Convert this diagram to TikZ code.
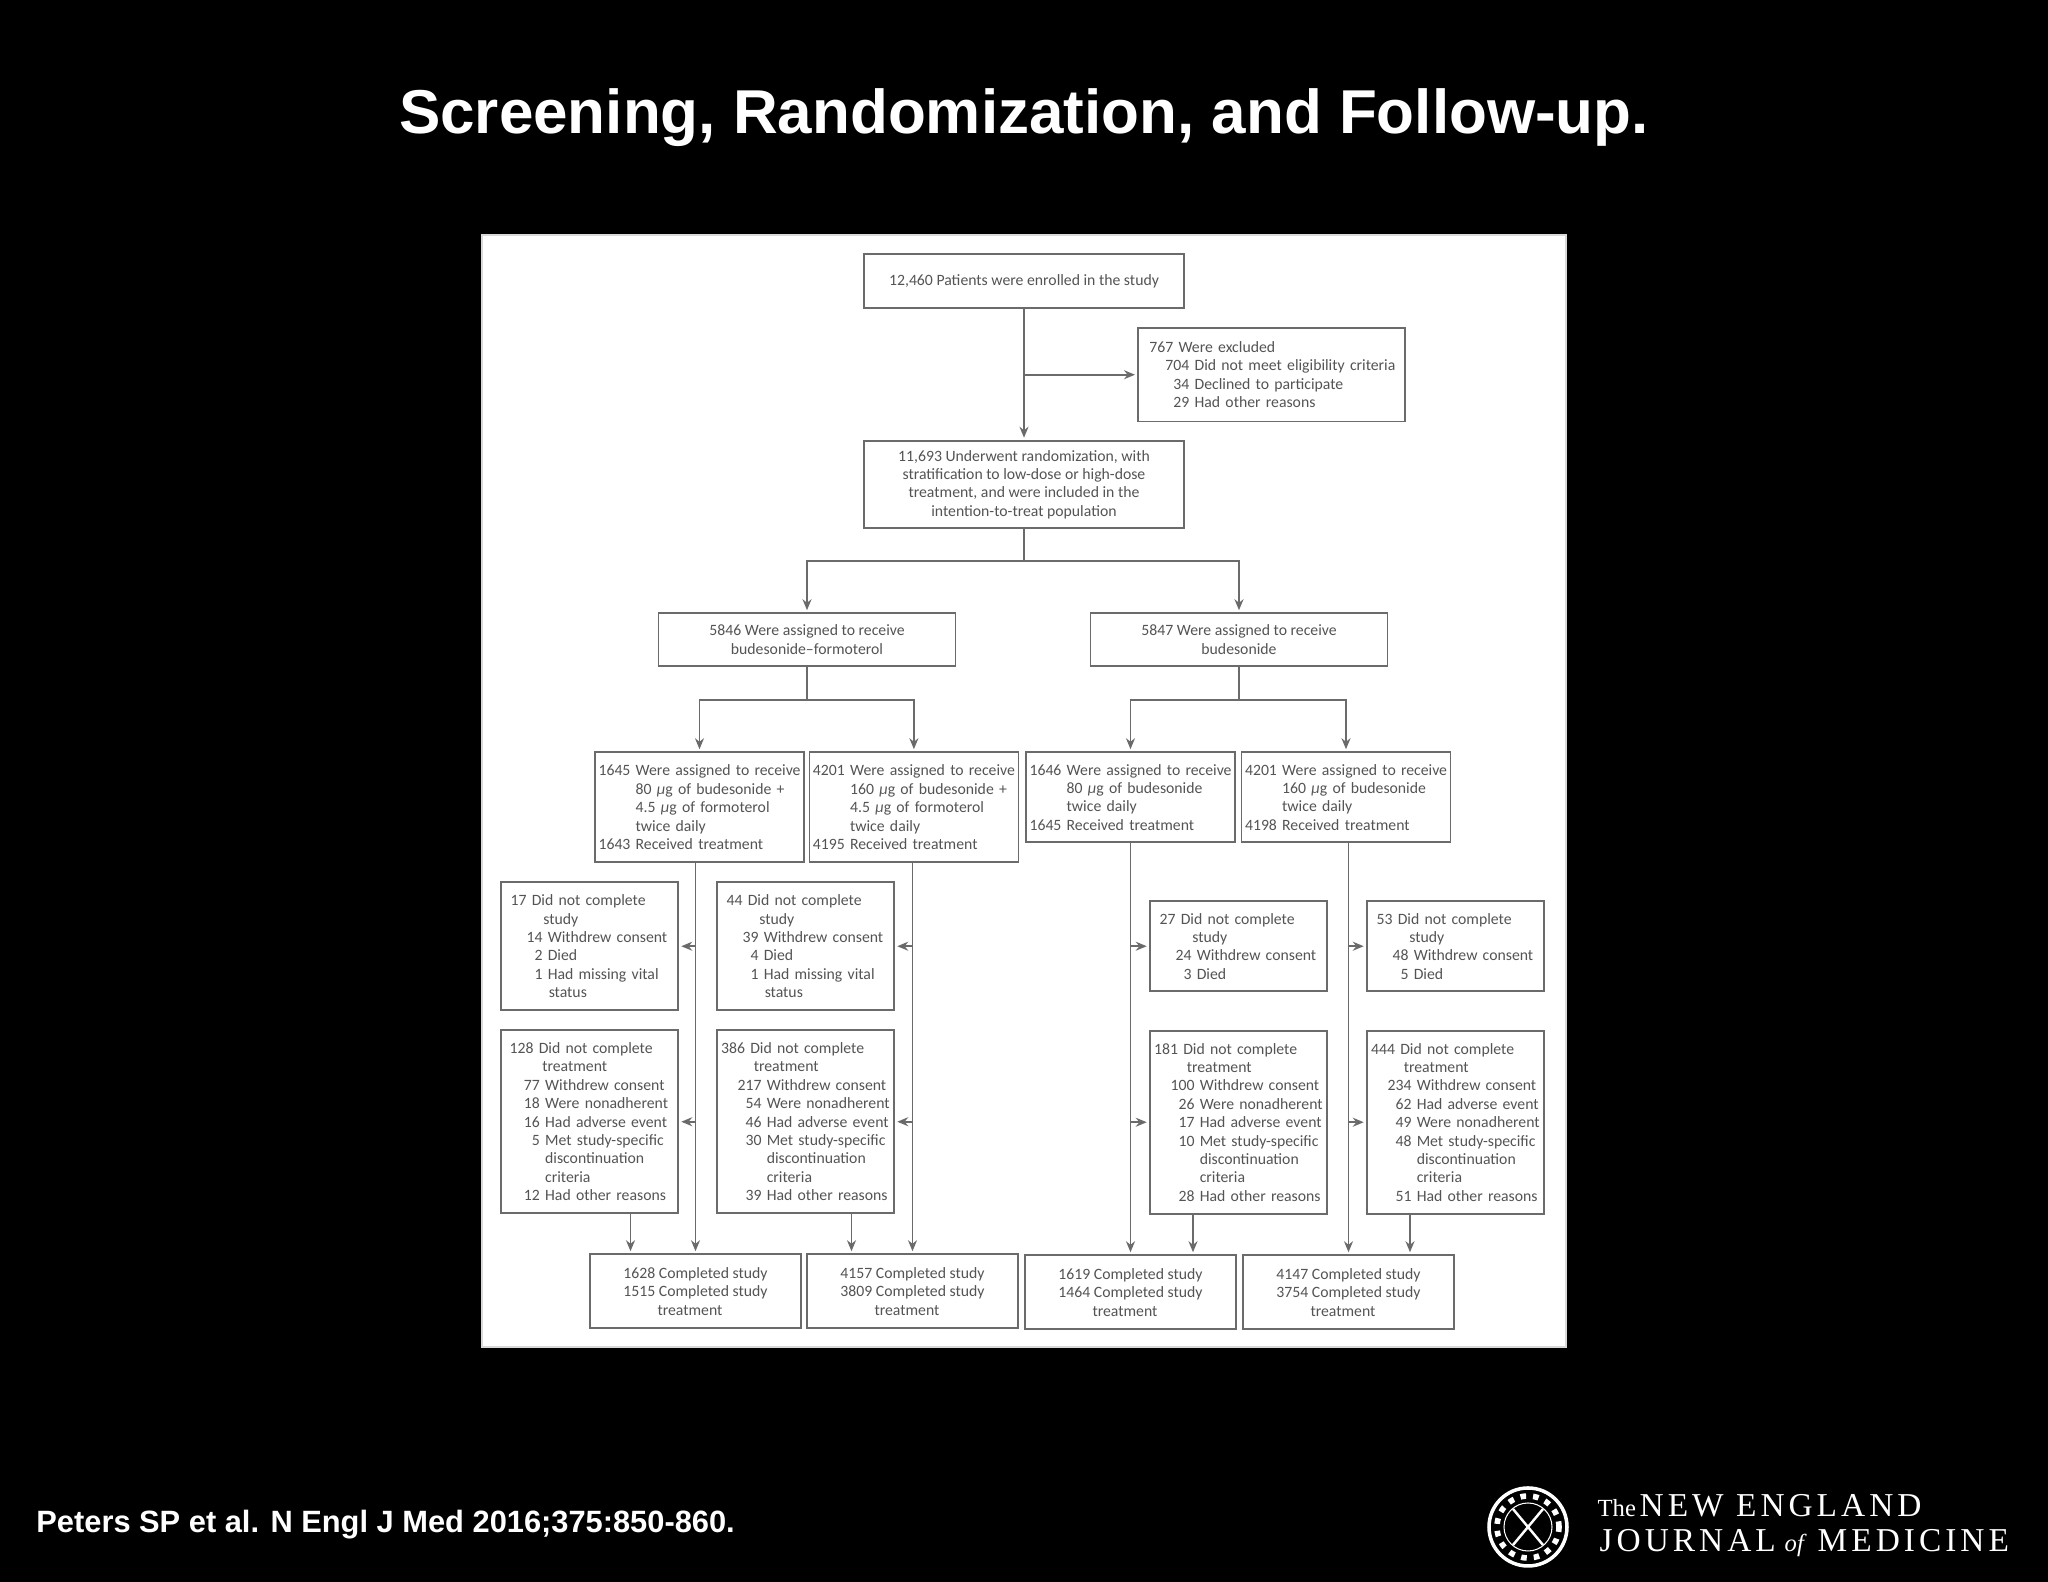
\documentclass[tikz,border=0pt]{standalone}
\usepackage{fontspec}
\setmainfont{Liberation Sans}
\newfontfamily\flowfont{Carlito}
\newfontfamily\logofont[LetterSpace=12]{Liberation Serif}
\newfontfamily\logoital{Liberation Serif}
\usetikzlibrary{arrows.meta,positioning,calc}
\definecolor{inkgrey}{gray}{0.33}
\definecolor{linegrey}{gray}{0.42}
\newcommand{\nr}[3]{\makebox[#1][r]{#2\ }#3}
\newcommand{\hg}[2]{\hspace*{#1}#2}
\tikzset{
  panel/.style={rectangle, draw=black!15, fill=white, line width=0.5pt,
                minimum width=10.84cm, minimum height=11.12cm, outer sep=0pt},
  box/.style={rectangle, draw=linegrey, fill=white, line width=0.5pt, outer sep=0pt,
              inner xsep=0pt, inner ysep=0pt, text=inkgrey,
              font=\flowfont\fontsize{4.48}{5.23}\selectfont},
  midbox/.style={box, align=center},
  topbox/.style={midbox, minimum width=3.2cm},
  armhead/.style={midbox, minimum width=2.97cm, minimum height=0.53cm},
  donebox/.style={midbox, minimum width=2.11cm, minimum height=0.74cm},
  armbox/.style={box, align=left, text width=2.09cm},
  sidebox/.style={box, align=left, text width=1.775cm},
  flow/.style={-{Stealth[length=0.11cm, width=0.09cm, fill=black!75]}, line width=0.45pt, linegrey,
               shorten >=0.03cm},
  link/.style={line width=0.45pt, linegrey},
  logotext/.style={anchor=base west, inner sep=0pt, text=white,
                   font=\logofont\fontsize{9.5}{10}\selectfont},
  logosmall/.style={anchor=base west, inner sep=0pt, text=white,
                    font=\logoital\fontsize{7}{8}\selectfont},
  logoline/.style={white, line width=0.5pt},
}
\begin{document}
\begin{tikzpicture}
\path[fill=black, use as bounding box] (0,0) rectangle (20.48,15.82);

\node[font=\bfseries\fontsize{17.63}{20}\selectfont, text=white] (title) at (10.24,14.64)
      {Screening, Randomization, and Follow-up.};
\node[panel] (sheet) at (10.24,7.91) {};

% Top of the flow
\node[topbox, minimum height=0.545cm] (enroll) at (10.24,13.01)
      {12,460 Patients were enrolled in the study};
\coordinate[below=0.665cm of enroll] (branch);
\node[topbox, minimum height=0.875cm, below=1.325cm of enroll] (rand)
      {11,693 Underwent randomization, with\\stratification to low-dose or high-dose\\
       treatment, and were included in the\\intention-to-treat population};
\node[box, align=left, text width=2.67cm, minimum height=0.935cm, right=1.14cm of branch] (excl)
      {\nr{0.405cm}{767}{Were excluded}\\\nr{0.566cm}{704}{Did not meet eligibility criteria}\\
       \nr{0.566cm}{34}{Declined to participate}\\\nr{0.566cm}{29}{Had other reasons}};
\coordinate[below=0.325cm of rand] (split);

% Two treatment groups
\node[armhead, below=0.85cm of rand, xshift=-2.17cm] (groupA)
      {5846 Were assigned to receive\\budesonide–formoterol};
\node[armhead, right=1.35cm of groupA] (groupB)
      {5847 Were assigned to receive\\budesonide};
\coordinate[below=0.34cm of groupA] (splitA);
\coordinate[below=0.34cm of groupB] (splitB);

% Dose arms
\node[armbox, minimum height=1.1cm, below=0.86cm of groupA, xshift=-1.075cm] (armA1)
      {\nr{0.407cm}{1645}{Were assigned to receive}\\\hg{0.407cm}{80 \textit{μ}g of budesonide +}\\
       \hg{0.407cm}{4.5 \textit{μ}g of formoterol}\\\hg{0.407cm}{twice daily}\\
       \nr{0.407cm}{1643}{Received treatment}};
\node[armbox, minimum height=1.1cm, right=0.054cm of armA1] (armA2)
      {\nr{0.407cm}{4201}{Were assigned to receive}\\\hg{0.407cm}{160 \textit{μ}g of budesonide +}\\
       \hg{0.407cm}{4.5 \textit{μ}g of formoterol}\\\hg{0.407cm}{twice daily}\\
       \nr{0.407cm}{4195}{Received treatment}};
\node[armbox, minimum height=0.9cm, below=0.86cm of groupB, xshift=-1.085cm] (armB1)
      {\nr{0.407cm}{1646}{Were assigned to receive}\\\hg{0.407cm}{80 \textit{μ}g of budesonide}\\
       \hg{0.407cm}{twice daily}\\\nr{0.407cm}{1645}{Received treatment}};
\node[armbox, minimum height=0.9cm, right=0.065cm of armB1] (armB2)
      {\nr{0.407cm}{4201}{Were assigned to receive}\\\hg{0.407cm}{160 \textit{μ}g of budesonide}\\
       \hg{0.407cm}{twice daily}\\\nr{0.407cm}{4198}{Received treatment}};

% Did not complete study
\node[sidebox, minimum height=1.28cm, below=0.2cm of armA1, xshift=-1.1cm] (studyA1)
      {\nr{0.31cm}{17}{Did not complete}\\\hg{0.426cm}{study}\\\nr{0.47cm}{14}{Withdrew consent}\\
       \nr{0.47cm}{2}{Died}\\\nr{0.47cm}{1}{Had missing vital}\\\hg{0.48cm}{status}};
\node[sidebox, minimum height=1.28cm, right=0.385cm of studyA1] (studyA2)
      {\nr{0.31cm}{44}{Did not complete}\\\hg{0.426cm}{study}\\\nr{0.47cm}{39}{Withdrew consent}\\
       \nr{0.47cm}{4}{Died}\\\nr{0.47cm}{1}{Had missing vital}\\\hg{0.48cm}{status}};
\node[sidebox, minimum height=0.9cm, below=0.59cm of armB1, xshift=1.08cm] (studyB1)
      {\nr{0.31cm}{27}{Did not complete}\\\hg{0.426cm}{study}\\\nr{0.47cm}{24}{Withdrew consent}\\
       \nr{0.47cm}{3}{Died}};
\node[sidebox, minimum height=0.9cm, right=0.395cm of studyB1] (studyB2)
      {\nr{0.31cm}{53}{Did not complete}\\\hg{0.426cm}{study}\\\nr{0.47cm}{48}{Withdrew consent}\\
       \nr{0.47cm}{5}{Died}};

% Did not complete treatment
\node[sidebox, minimum height=1.83cm, below=0.2cm of studyA1] (treatA1)
      {\nr{0.38cm}{128}{Did not complete}\\\hg{0.415cm}{treatment}\\\nr{0.444cm}{77}{Withdrew consent}\\
       \nr{0.444cm}{18}{Were nonadherent}\\\nr{0.444cm}{16}{Had adverse event}\\
       \nr{0.444cm}{5}{Met study-specific}\\\hg{0.444cm}{discontinuation}\\\hg{0.444cm}{criteria}\\
       \nr{0.444cm}{12}{Had other reasons}};
\node[sidebox, minimum height=1.83cm, right=0.385cm of treatA1] (treatA2)
      {\nr{0.335cm}{386}{Did not complete}\\\hg{0.37cm}{treatment}\\\nr{0.5cm}{217}{Withdrew consent}\\
       \nr{0.5cm}{54}{Were nonadherent}\\\nr{0.5cm}{46}{Had adverse event}\\
       \nr{0.5cm}{30}{Met study-specific}\\\hg{0.5cm}{discontinuation}\\\hg{0.5cm}{criteria}\\
       \nr{0.5cm}{39}{Had other reasons}};
\node[sidebox, minimum height=1.83cm, below=0.395cm of studyB1] (treatB1)
      {\nr{0.335cm}{181}{Did not complete}\\\hg{0.37cm}{treatment}\\\nr{0.5cm}{100}{Withdrew consent}\\
       \nr{0.5cm}{26}{Were nonadherent}\\\nr{0.5cm}{17}{Had adverse event}\\
       \nr{0.5cm}{10}{Met study-specific}\\\hg{0.5cm}{discontinuation}\\\hg{0.5cm}{criteria}\\
       \nr{0.5cm}{28}{Had other reasons}};
\node[sidebox, minimum height=1.83cm, right=0.395cm of treatB1] (treatB2)
      {\nr{0.335cm}{444}{Did not complete}\\\hg{0.37cm}{treatment}\\\nr{0.5cm}{234}{Withdrew consent}\\
       \nr{0.5cm}{62}{Had adverse event}\\\nr{0.5cm}{49}{Were nonadherent}\\
       \nr{0.5cm}{48}{Met study-specific}\\\hg{0.5cm}{discontinuation}\\\hg{0.5cm}{criteria}\\
       \nr{0.5cm}{51}{Had other reasons}};

% Completed
\node[donebox, below=3.92cm of armA1, xshift=-0.04cm] (doneA1)
      {1628 Completed study\\1515 Completed study\\treatment\hspace*{0.11cm}};
\node[donebox, right=0.06cm of doneA1] (doneA2)
      {4157 Completed study\\3809 Completed study\\treatment\hspace*{0.11cm}};
\node[donebox, below=4.13cm of armB1] (doneB1)
      {1619 Completed study\\1464 Completed study\\treatment\hspace*{0.11cm}};
\node[donebox, right=0.07cm of doneB1] (doneB2)
      {4147 Completed study\\3754 Completed study\\treatment\hspace*{0.11cm}};

% Main flows
\draw[flow] (enroll) -- (rand);
\draw[flow] (branch) -- (excl);
\draw[link] (rand) -- (split);
\draw[flow] (split) -| (groupA.north);
\draw[flow] (split) -| (groupB.north);
\draw[link] (groupA) -- (splitA);
\draw[flow] (splitA) -| (armA1.north);
\draw[flow] (splitA) -| (armA2.north);
\draw[link] (groupB) -- (splitB);
\draw[flow] (splitB) -| (armB1.north);
\draw[flow] (splitB) -| (armB2.north);
\draw[flow] (armA1.south -| doneA1.north) -- (doneA1.north);
\draw[flow] (armA2.south -| doneA2.north) -- (doneA2.north);
\draw[flow] (armB1.south -| doneB1.north) -- (doneB1.north);
\draw[flow] (armB2.south -| doneB2.north) -- (doneB2.north);

% Side flows
\draw[flow] (studyA1.east -| doneA1.north) -- (studyA1.east);
\draw[flow] (treatA1.east -| doneA1.north) -- (treatA1.east);
\draw[flow] (studyA2.east -| doneA2.north) -- (studyA2.east);
\draw[flow] (treatA2.east -| doneA2.north) -- (treatA2.east);
\draw[flow] (studyB1.west -| doneB1.north) -- (studyB1.west);
\draw[flow] (treatB1.west -| doneB1.north) -- (treatB1.west);
\draw[flow] (studyB2.west -| doneB2.north) -- (studyB2.west);
\draw[flow] (treatB2.west -| doneB2.north) -- (treatB2.west);
\draw[flow] ([xshift=0.41cm]treatA1.south) -- ([xshift=0.41cm]treatA1.south |- doneA1.north);
\draw[flow] ([xshift=0.46cm]treatA2.south) -- ([xshift=0.46cm]treatA2.south |- doneA2.north);
\draw[flow] ([xshift=-0.455cm]treatB1.south) -- ([xshift=-0.455cm]treatB1.south |- doneB1.north);
\draw[flow] ([xshift=-0.455cm]treatB2.south) -- ([xshift=-0.455cm]treatB2.south |- doneB2.north);

% Footer
\node[anchor=west, font=\bfseries\fontsize{8.77}{10}\selectfont, text=white] (cite) at (0.24,0.57)
      {Peters SP et al. N Engl J Med 2016;375:850-860.};
\node[logosmall] (logoThe) at (15.97,0.65) {The};
\node[logotext] (logoNew) at (16.39,0.65) {NEW ENGLAND};
\node[logotext] (logoJour) at (15.99,0.30) {JOURNAL};
\node[logosmall, font=\logoital\itshape\fontsize{7}{8}\selectfont] (logoOf) at (17.84,0.30) {of};
\node[logotext] (logoMed) at (18.17,0.30) {MEDICINE};

% Seal
\coordinate (seal) at (15.28,0.55);
\draw[logoline, line width=1pt] (seal) circle (0.39);
\draw[logoline, line width=1.6pt, dotted] (seal) circle (0.31);
\draw[logoline, line width=0.3pt] (seal) circle (0.24);
\draw[logoline, line width=0.7pt] ($(seal)+(-0.15,0.18)$) -- ($(seal)+(0.15,-0.18)$);
\draw[logoline, line width=0.7pt] ($(seal)+(0.15,0.18)$) -- ($(seal)+(-0.15,-0.18)$);
\end{tikzpicture}
\end{document}
